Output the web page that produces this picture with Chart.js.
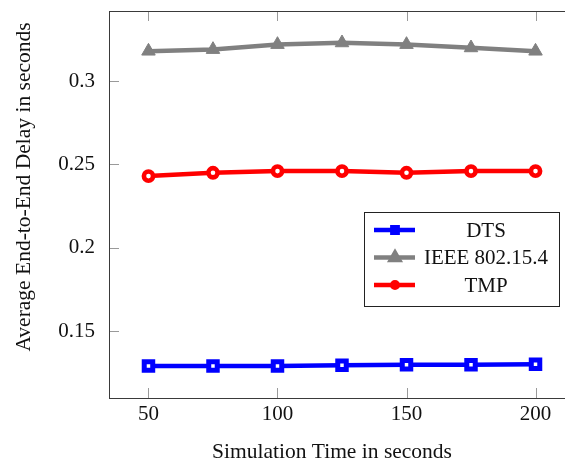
<!DOCTYPE html>
<html>
<head>
<meta charset="utf-8">
<script src="https://cdn.jsdelivr.net/npm/chart.js@4"></script>
<style>
  html, body { margin: 0; padding: 0; background: #fff; }
  #wrap { width: 565px; height: 461px; overflow: hidden; }
  #box { width: 600px; height: 461px; }
</style>
</head>
<body>
<div id="wrap"><div id="box"><canvas id="delayChart"></canvas></div></div>
<script>
const simTimes = [50, 75, 100, 125, 150, 175, 200];
const dtsDelay = [0.129, 0.129, 0.129, 0.1295, 0.1297, 0.1298, 0.130];
const ieeeDelay = [0.318, 0.319, 0.322, 0.323, 0.322, 0.320, 0.318];
const tmpDelay = [0.243, 0.245, 0.246, 0.246, 0.245, 0.246, 0.246];
const xTicks = [50, 100, 150, 200];
const yTicks = [0.15, 0.2, 0.25, 0.3];
const xTitle = 'Simulation Time in seconds';
const yTitle = 'Average End-to-End Delay in seconds';

const serif = "'Liberation Serif', 'DejaVu Serif', serif";

function toPoints(values) {
    return simTimes.map((t, i) => ({ x: t, y: values[i] }));
}

// frame, inside tick marks, axis titles and the boxed legend, drawn like pgfplots does
const frameAndLegend = {
    id: 'frameAndLegend',
    afterDatasetsDraw(chart) {
        const ctx = chart.ctx;
        const area = chart.chartArea;
        const xs = chart.scales.x;
        const ys = chart.scales.y;
        ctx.save();

        ctx.strokeStyle = '#9a9a9a';
        ctx.lineWidth = 1;
        ctx.beginPath();
        xTicks.forEach(v => {
            const px = Math.round(xs.getPixelForValue(v)) + 0.5;
            ctx.moveTo(px, area.bottom); ctx.lineTo(px, area.bottom - 10);
            ctx.moveTo(px, area.top); ctx.lineTo(px, area.top + 10);
        });
        yTicks.forEach(v => {
            const py = Math.round(ys.getPixelForValue(v)) + 0.5;
            ctx.moveTo(area.left, py); ctx.lineTo(area.left + 10, py);
            ctx.moveTo(area.right, py); ctx.lineTo(area.right - 10, py);
        });
        ctx.stroke();

        ctx.strokeStyle = '#3a3a3a';
        ctx.strokeRect(Math.round(area.left) + 0.5, Math.round(area.top) + 0.5,
            Math.round(area.right - area.left), Math.round(area.bottom - area.top));

        // axis titles
        ctx.fillStyle = '#111';
        ctx.font = '21.5px ' + serif;
        ctx.textAlign = 'center';
        ctx.textBaseline = 'middle';
        ctx.fillText(xTitle, area.left + 223, 452);
        ctx.save();
        ctx.translate(24, area.top + 176);
        ctx.rotate(-Math.PI / 2);
        ctx.fillText(yTitle, 0, 0);
        ctx.restore();

        // legend
        const lx = area.left + 255, ly = 212, lw = 195, lh = 94;
        ctx.fillStyle = '#fff';
        ctx.fillRect(lx, ly, lw, lh);
        ctx.strokeStyle = '#222';
        ctx.lineWidth = 1;
        ctx.strokeRect(lx + 0.5, ly + 0.5, lw, lh);
        ctx.font = '21px ' + serif;
        chart.data.datasets.forEach((ds, i) => {
            const cy = ly + 18 + i * 27.5;
            ctx.strokeStyle = ds.borderColor;
            ctx.lineWidth = ds.borderWidth;
            ctx.beginPath();
            ctx.moveTo(lx + 10, cy); ctx.lineTo(lx + 51, cy);
            ctx.stroke();
            ctx.fillStyle = ds.borderColor;
            ctx.lineWidth = 2;
            Chart.helpers.drawPoint(ctx, {
                pointStyle: ds.pointStyle, radius: ds.pointRadius - 0.5,
                rotation: 0, borderWidth: 2
            }, lx + 31, cy);
            ctx.fillStyle = '#111';
            ctx.fillText(ds.label, lx + 122, cy + 1);
        });
        ctx.restore();
    }
};

new Chart(document.getElementById('delayChart'), {
    type: 'line',
    data: {
        datasets: [
            {
                label: 'DTS',
                data: toPoints(dtsDelay),
                borderColor: '#0000ff',
                backgroundColor: '#ffffff',
                borderWidth: 4.5,
                pointStyle: 'rect',
                pointRadius: 6,
                pointBorderWidth: 5,
                pointBorderColor: '#0000ff',
                pointBackgroundColor: '#ffffff'
            },
            {
                label: 'IEEE 802.15.4',
                data: toPoints(ieeeDelay),
                borderColor: '#808080',
                backgroundColor: '#808080',
                borderWidth: 4.5,
                pointStyle: 'triangle',
                pointRadius: 7.8,
                pointBorderWidth: 1,
                pointBorderColor: '#808080',
                pointBackgroundColor: '#808080'
            },
            {
                label: 'TMP',
                data: toPoints(tmpDelay),
                borderColor: '#ff0000',
                backgroundColor: '#ffffff',
                borderWidth: 4.5,
                pointStyle: 'circle',
                pointRadius: 4.6,
                pointBorderWidth: 4.6,
                pointBorderColor: '#ff0000',
                pointBackgroundColor: '#ffffff'
            }
        ]
    },
    options: {
        responsive: true,
        maintainAspectRatio: false,
        animation: false,
        layout: { padding: { top: 10, right: 25, bottom: 0, left: 0 } },
        plugins: { legend: { display: false }, tooltip: { enabled: false } },
        scales: {
            x: {
                type: 'linear',
                min: 34.7,
                max: 215.3,
                afterBuildTicks: s => { s.ticks = xTicks.map(v => ({ value: v })); },
                afterFit: s => { s.height = 63; s.paddingLeft = 0; s.paddingRight = 0; },
                grid: { display: false },
                border: { display: false },
                ticks: { color: '#111', font: { family: serif, size: 21 }, padding: -4, callback: v => String(v) }
            },
            y: {
                min: 0.1098,
                max: 0.3421,
                afterBuildTicks: s => { s.ticks = yTicks.map(v => ({ value: v })); },
                afterFit: s => { s.width = 109; s.paddingTop = 0; s.paddingBottom = 0; },
                grid: { display: false },
                border: { display: false },
                ticks: { color: '#111', font: { family: serif, size: 21 }, padding: 6, callback: v => String(v) }
            }
        }
    },
    plugins: [frameAndLegend]
});
</script>
</body>
</html>
